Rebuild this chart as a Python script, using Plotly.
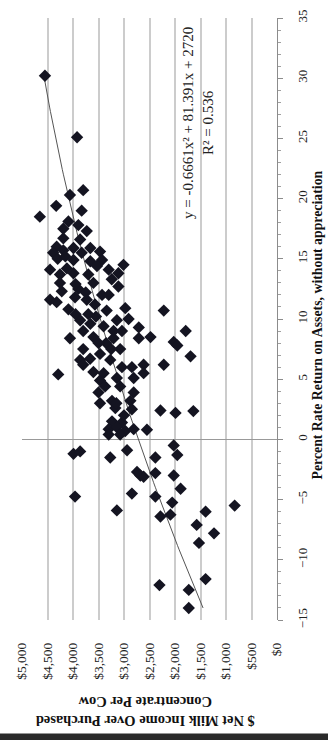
import numpy as np
import plotly.graph_objects as go

# $ Net Milk Income Over Purchased Concentrate Per Cow (income) vs Percent Rate Return on Assets (ret)
income = [4550, 3920, 4060, 3800, 4330, 4650, 3830, 4090, 4190, 3895, 3730, 4190, 3860, 4320, 4390,
          4190, 3990, 3660, 3470, 3830, 3990, 3660, 3430, 3010, 4450, 4120, 3530, 3300, 4255, 3990,
          3700, 3110, 3240, 4255, 3600, 3110, 4220, 3895, 3430, 3300, 4450, 4320, 3960, 3730, 4090,
          3570, 3340, 2975, 2220, 3860, 3660, 3140, 2910, 3800, 3205, 2710, 1790, 4060, 3600, 3205,
          3040, 2710, 2480, 2025, 1955, 1695, 3800, 3470, 3075, 3860, 3665, 3270, 4290, 3800, 3600,
          3040, 2845, 2615, 2615, 2220, 3470, 3140, 2810, 3370, 3075, 3500, 2810, 3235, 3470, 2875,
          3170, 2845, 2285, 1990, 1640, 3235, 3040, 3300, 3140, 2975, 3300, 3075, 2810, 2550, 2025,
          3990, 3860, 3270, 2940, 2385, 1955, 2680, 2615, 2745, 2385, 2025, 1890, 2845, 2385, 2055,
          3140, 2285, 2090, 1400, 830, 1575, 1235, 1530, 1400, 2305, 1730, 1730, 3960,
          4300, 4150, 3950, 3750, 3550, 3400, 3350, 3500, 3950, 3700, 3150, 3000, 3400, 3250]
ret = [30.2, 25.1, 20.3, 20.7, 19.4, 18.5, 19.0, 18.1, 17.5, 17.8, 17.3, 16.7, 16.6, 16.0, 15.5,
       15.7, 15.9, 15.9, 15.6, 15.5, 14.9, 14.8, 14.9, 14.5, 14.1, 14.2, 14.4, 14.1, 13.7, 13.8,
       13.7, 13.8, 13.3, 13.0, 13.0, 12.7, 12.3, 12.5, 12.0, 12.0, 11.6, 11.4, 11.8, 11.6, 10.8,
       11.2, 10.7, 10.9, 10.7, 9.9, 9.6, 9.9, 10.0, 9.0, 9.0, 9.3, 9.0, 8.4, 8.5, 8.4,
       9.0, 8.4, 8.5, 8.1, 7.8, 6.9, 7.5, 7.1, 7.5, 6.6, 6.7, 6.6, 5.4, 6.2, 5.6,
       6.0, 6.0, 6.2, 5.5, 6.2, 4.9, 5.1, 5.1, 4.4, 4.4, 3.9, 3.9, 3.2, 3.0, 3.2,
       2.6, 2.5, 2.4, 2.2, 2.35, 1.5, 1.4, 0.85, 1.0, 0.7, 0.4, 0.4, 0.85, 0.8, -0.5,
       -1.2, -1.0, -1.5, -0.9, -1.5, -1.3, -3.0, -3.1, -2.7, -2.8, -3.0, -4.1, -4.5, -4.75, -5.25,
       -5.9, -6.4, -6.25, -6.0, -5.5, -7.1, -7.8, -8.6, -11.6, -12.1, -12.5, -14.0, -4.75,
       15.0, 15.2, 12.9, 12.2, 10.2, 9.4, 8.0, 8.0, 10.4, 10.4, 3.0, 2.0, 5.5, 7.5]

# trendline given in chart: y = -0.6661x^2 + 81.391x + 2720 (x = return, y = income)
coef = [-0.6661, 81.391, 2720]
trend_ret = np.linspace(-14, 30.2, 120)
trend_inc = np.polyval(coef, trend_ret)

income_ticks = list(range(0, 5001, 500))
income_labels = ["$0", "$500", "$1,000", "$1,500", "$2,000", "$2,500", "$3,000", "$3,500",
                 "$4,000", "$4,500", "$5,000"]
ret_ticks = list(range(-15, 36, 5))

serif = "Liberation Serif, Times New Roman, serif"

fig = go.Figure()
fig.add_trace(go.Scatter(x=trend_inc, y=trend_ret, mode="lines",
                         line=dict(color="#555555", width=1), hoverinfo="skip"))
fig.add_trace(go.Scatter(x=income, y=ret, mode="markers",
                         marker=dict(symbol="diamond", size=9.5, color="#141421", line=dict(width=0))))

fig.update_layout(
    width=328, height=740,
    margin=dict(l=22, r=51, t=10, b=120),
    paper_bgcolor="white", plot_bgcolor="white",
    showlegend=False,
    font=dict(family=serif, color="#222222"),
    xaxis=dict(range=[5000, 0], tickvals=income_ticks, ticktext=income_labels,
               tickangle=-90, showgrid=True, gridcolor="#cccccc", gridwidth=2,
               zeroline=False, showline=False, ticks="", ticklabelstandoff=19,
               tickfont=dict(family=serif, size=13.5, color="#222222")),
    yaxis=dict(range=[-15, 35], tickvals=ret_ticks, side="right", tickangle=-90,
               showgrid=False, zeroline=True, zerolinecolor="#999999", zerolinewidth=1,
               showline=True, linecolor="#8c8c8c", linewidth=1,
               ticks="outside", ticklen=5, tickcolor="#8c8c8c",
               minor=dict(dtick=1, ticks="outside", ticklen=3, tickcolor="#a0a0a0"),
               ticklabelstandoff=8,
               tickfont=dict(family=serif, size=13, color="#222222")),
    annotations=[
        dict(text="<b>Percent Rate Return on Assets, without appreciation</b>",
             xref="paper", yref="paper", x=1.155, y=0.49, xanchor="center", yanchor="middle",
             textangle=-90, showarrow=False,
             font=dict(family=serif, size=13.8, color="#111111")),
        dict(text="<b>$ Net Milk Income Over Purchased<br>Concentrate Per Cow</b>",
             xref="paper", yref="paper", x=0.482, y=-0.153, xanchor="center", yanchor="middle",
             textangle=180, showarrow=False,
             font=dict(family=serif, size=14.5, color="#111111")),
        dict(text="y = -0.6661x² + 81.391x + 2720<br>R² = 0.536",
             xref="paper", yref="paper", x=0.693, y=0.825, xanchor="center", yanchor="middle",
             textangle=-90, showarrow=False,
             font=dict(family=serif, size=15, color="#222222")),
    ],
    shapes=[dict(type="rect", xref="paper", yref="paper", x0=-0.2, x1=1.3,
                 y0=(620 - 735) / 610, y1=(620 - 745) / 610,
                 fillcolor="#2a2a2a", line=dict(width=0), layer="above")],
)

fig.write_html("out.html")
